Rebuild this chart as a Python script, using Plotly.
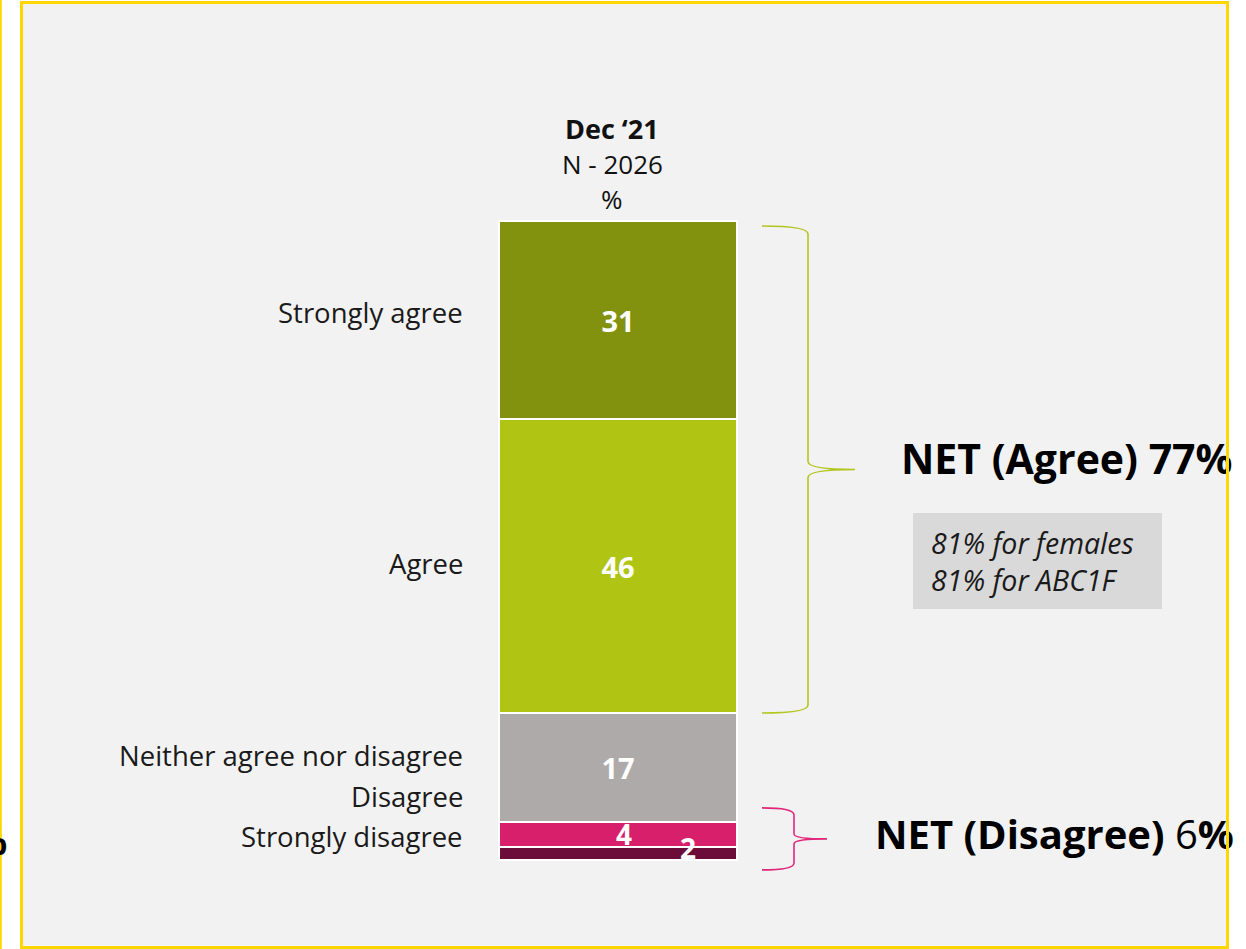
import plotly.graph_objects as go

# ---- data ----
categories = ["Strongly agree", "Agree", "Neither agree nor disagree", "Disagree", "Strongly disagree"]
values = [31, 46, 17, 4, 2]
colors = ["#82920e", "#b0c414", "#aeaaaa", "#d81f6c", "#6c0c39"]
header = ["Dec \u201821", "N - 2026", "%"]
note_lines = ["81% for females", "81% for ABC1F"]

net_agree = values[0] + values[1]
net_disagree = values[3] + values[4]

# ---- canvas geometry (pixels) ----
W, H = 1246, 949
BAR_X, BAR_W = 618, 238
Y0_PX, Y100_PX = 860, 221            # pixel rows of 0% and 100%
PPU = (Y0_PX - Y100_PX) / 100.0      # pixels per percentage point
Y_RANGE = [-(H - Y0_PX) / PPU, Y0_PX / PPU]
FONT = "Open Sans"


def py(p):
    """pixel row -> paper y"""
    return 1 - p / H


def px(p):
    """pixel column -> paper x"""
    return p / W


fig = go.Figure()

# stacked segments, bottom first
order = list(range(len(values)))[::-1]
cum = 0
mids = {}
for i in order:
    mids[i] = cum + values[i] / 2
    cum += values[i]
    show_text = values[i] >= 10
    fig.add_trace(go.Bar(
        x=[BAR_X], y=[values[i]], width=[BAR_W], name=categories[i],
        marker=dict(color=colors[i], line=dict(color="white", width=2)),
        text=[str(values[i])] if show_text else None,
        textposition="inside" if show_text else "none",
        insidetextanchor="middle", textangle=0,
        textfont=dict(family=FONT, size=29, color="white", weight="bold"),
        hoverinfo="skip", showlegend=False,
    ))

annotations = []

# small segment values
annotations.append(dict(x=BAR_X + 6, y=mids[3], xref="x", yref="y", text="<b>%d</b>" % values[3],
                        showarrow=False, font=dict(family=FONT, size=28, color="white")))
annotations.append(dict(x=688, y=mids[4] + 6 / PPU, xref="x", yref="y", text="<b>%d</b>" % values[4],
                        showarrow=False, font=dict(family=FONT, size=28, color="white")))

# category labels on the left
label_rows = [313, 563, 755, 796, 836]
for cat, row in zip(categories, label_rows):
    annotations.append(dict(x=px(465), y=py(row), xref="paper", yref="paper", text=cat,
                            xanchor="right", yanchor="middle", showarrow=False,
                            font=dict(family=FONT, size=27.5, color="#1a1a1a")))

# column header
for txt, row, bold, size in zip(header, [128, 164, 199], [True, False, False], [27, 26, 26]):
    annotations.append(dict(x=px(612), y=py(row), xref="paper", yref="paper",
                            text="<b>%s</b>" % txt if bold else txt,
                            xanchor="center", yanchor="middle", showarrow=False,
                            font=dict(family=FONT, size=size, color="#111111")))

# note box text
annotations.append(dict(x=929, y=py(561), xref="x", yref="paper",
                        text="<i>" + "<br>".join(note_lines) + "</i>",
                        xanchor="left", yanchor="middle", align="left", showarrow=False,
                        font=dict(family=FONT, size=28.5, color="#1a1a1a")))

# fragment of the neighbouring panel at the left edge
annotations.append(dict(x=px(9), y=py(840), xref="paper", yref="paper", text="<b>%</b>",
                        xanchor="right", yanchor="middle", showarrow=False,
                        font=dict(family=FONT, size=38, color="black")))

# NET labels as text traces so the panel border sits over them
fig.add_trace(go.Scatter(
    x=[901], y=[(100 + (100 - net_agree)) / 2 + 0.5],
    mode="text", text=["<b>NET (Agree) %d%%</b>" % net_agree],
    textposition="middle right",
    textfont=dict(family=FONT, size=41, color="black"),
    hoverinfo="skip", showlegend=False, cliponaxis=False,
))
fig.add_trace(go.Scatter(
    x=[875], y=[net_disagree / 2 + 0.3],
    mode="text", text=["<b>NET (Disagree)</b> %d<b>%%</b>" % net_disagree],
    textposition="middle right",
    textfont=dict(family=FONT, size=40, color="black"),
    hoverinfo="skip", showlegend=False, cliponaxis=False,
))


def bracket(x_start, x_mid, x_tip, y_top, y_bot, y_tip, r_end=10, r_tip=8):
    """curly bracket path in (x pixel, y percent) coordinates"""
    re_ = r_end / PPU
    rt = r_tip / PPU
    return (f"M {x_start},{y_top} Q {x_mid},{y_top} {x_mid},{y_top - re_} "
            f"L {x_mid},{y_tip + rt} Q {x_mid},{y_tip} {x_tip},{y_tip} "
            f"Q {x_mid},{y_tip} {x_mid},{y_tip - rt} "
            f"L {x_mid},{y_bot + re_} Q {x_mid},{y_bot} {x_start},{y_bot}")


agree_top = 100 - 5 / PPU
agree_bot = 100 - net_agree
agree_tip = (agree_top + agree_bot) / 2
dis_mid = net_disagree / 2 + 0.3
dis_half = 31 / PPU

shapes = [
    # panel
    dict(type="rect", xref="paper", yref="paper", x0=px(21.5), x1=px(1227.5), y0=py(947.5), y1=py(2.5),
         fillcolor="#f2f2f2", line=dict(width=0), layer="below"),
    dict(type="rect", xref="paper", yref="paper", x0=px(21.5), x1=px(1227.5), y0=py(947.5), y1=py(2.5),
         line=dict(color="#ffd700", width=3), layer="above"),
    dict(type="line", xref="paper", yref="paper", x0=px(0.8), x1=px(0.8), y0=0, y1=1,
         line=dict(color="#ffd700", width=2), layer="above"),
    # note box
    dict(type="rect", xref="x", yref="paper", x0=913, x1=1162, y0=py(609), y1=py(513),
         fillcolor="#d9d9d9", line=dict(width=0), layer="below"),
    # brackets
    dict(type="path", xref="x", yref="y",
         path=bracket(762, 808, 855, agree_top, agree_bot, agree_tip, r_end=8, r_tip=8),
         line=dict(color="#b3c61f", width=1.6)),
    dict(type="path", xref="x", yref="y",
         path=bracket(762, 794, 827, dis_mid + dis_half, dis_mid - dis_half, dis_mid, r_end=7, r_tip=5),
         line=dict(color="#e0287a", width=1.6)),
]

fig.update_layout(
    width=W, height=H, autosize=False,
    margin=dict(l=0, r=0, t=0, b=0, pad=0),
    paper_bgcolor="white", plot_bgcolor="rgba(0,0,0,0)",
    barmode="stack", bargap=0,
    xaxis=dict(range=[0, W], visible=False, fixedrange=True),
    yaxis=dict(range=Y_RANGE, visible=False, fixedrange=True),
    shapes=shapes, annotations=annotations,
    showlegend=False,
)

fig.write_html("out.html")
